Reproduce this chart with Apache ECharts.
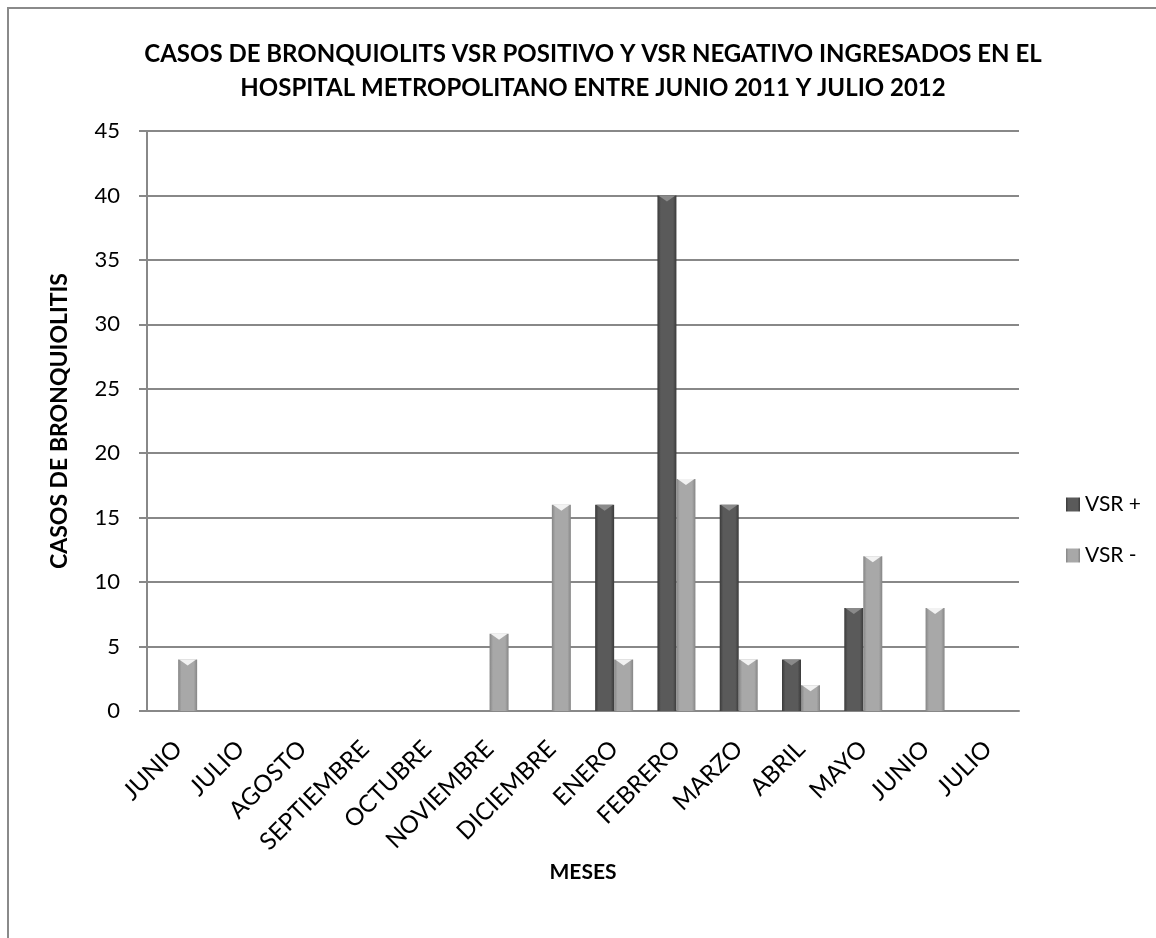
<!DOCTYPE html>
<html><head><meta charset="utf-8">
<script src="https://cdn.jsdelivr.net/npm/echarts@6/dist/echarts.min.js"></script>
<style>html,body{margin:0;padding:0;background:#fff}#c{width:1156px;height:938px}</style>
</head><body><div id="c"></div>
<script>
const categories = ['JUNIO','JULIO','AGOSTO','SEPTIEMBRE','OCTUBRE','NOVIEMBRE','DICIEMBRE','ENERO','FEBRERO','MARZO','ABRIL','MAYO','JUNIO','JULIO'];
const vsrPos = [0,0,0,0,0,0,0,16,40,16,4,8,0,0];
const vsrNeg = [4,0,0,0,0,6,16,4,18,4,2,12,8,0];
const yTicks = {min:0, max:45, interval:5};

const F = 'Lato, "Open Sans", sans-serif';
const CAT_GAP = 0.39;
function grad(edge, mid){
  return {type:'linear',x:0,y:0,x2:1,y2:0,colorStops:[
    {offset:0,color:edge},{offset:0.18,color:mid},{offset:0.82,color:mid},{offset:1,color:edge}]};
}
function bevel(side, color){
  return function(params, api){
    const v = api.value(1);
    if (!v) return null;
    const top = api.coord([api.value(0), v]);
    const catW = api.size([1,0])[0];
    const bw = catW*(1-CAT_GAP)/2;
    const x0 = side < 0 ? top[0]-bw : top[0];
    const x1 = x0 + bw;
    return {type:'polygon',shape:{points:[[x0+1,top[1]],[x1-1,top[1]],[(x0+x1)/2,top[1]+6]]},
      style:{fill:color},z2:10};
  };
}
const chart = echarts.init(document.getElementById('c'));
chart.setOption({
  animation:false,
  backgroundColor:'#fff',
  graphic:[{type:'rect',shape:{x:8,y:8,width:1200,height:1000},style:{fill:'none',stroke:'#8a8a8a',lineWidth:2}}],
  title:{text:'CASOS DE BRONQUIOLITS VSR POSITIVO Y VSR NEGATIVO INGRESADOS EN EL\nHOSPITAL METROPOLITANO ENTRE JUNIO 2011 Y JULIO 2012',
    left:588, top:32, textAlign:'center',
    textStyle:{fontFamily:F,fontWeight:'bold',fontSize:24,color:'#000',lineHeight:34}},
  legend:{orient:'vertical',left:1061,top:489,itemWidth:14,itemHeight:14,itemGap:30,
    icon:'rect',textStyle:{fontFamily:F,fontSize:21,color:'#000'},
    data:['VSR +','VSR -']},
  grid:{left:147,right:137,top:131,bottom:227},
  xAxis:{type:'category',data:categories,
    name:'MESES',nameLocation:'middle',nameGap:145,
    nameTextStyle:{fontFamily:F,fontWeight:'bold',fontSize:21,color:'#000'},
    axisLine:{lineStyle:{color:'#888',width:2}},axisTick:{show:false},
    axisLabel:{interval:0,rotate:45,margin:34,fontFamily:F,fontSize:24,color:'#000'}},
  yAxis:{type:'value',min:yTicks.min,max:yTicks.max,interval:yTicks.interval,
    name:'CASOS DE BRONQUIOLITIS',nameLocation:'middle',nameGap:76,nameRotate:90,
    nameTextStyle:{fontFamily:F,fontWeight:'bold',fontSize:23,color:'#000'},
    axisLine:{show:true,lineStyle:{color:'#888',width:2}},
    axisTick:{show:true,length:8,lineStyle:{color:'#888',width:2}},
    axisLabel:{margin:27,fontFamily:F,fontSize:22,color:'#000'},
    splitLine:{lineStyle:{color:'#888',width:2}}},
  series:[
    {name:'VSR +',type:'bar',data:vsrPos,barGap:'0%',barCategoryGap:(CAT_GAP*100)+'%',
      itemStyle:{color:grad('#3a3a3a','#5a5a5a'),borderWidth:0}},
    {name:'VSR -',type:'bar',data:vsrNeg,barGap:'0%',barCategoryGap:(CAT_GAP*100)+'%',
      itemStyle:{color:grad('#858585','#a8a8a8'),borderWidth:0}},
    {type:'custom',renderItem:bevel(-1,'#8a8a8a'),data:vsrPos.map((v,i)=>[i,v]),z:5,silent:true},
    {type:'custom',renderItem:bevel(1,'#f2f2f2'),data:vsrNeg.map((v,i)=>[i,v]),z:5,silent:true}
  ]
});
</script></body></html>
